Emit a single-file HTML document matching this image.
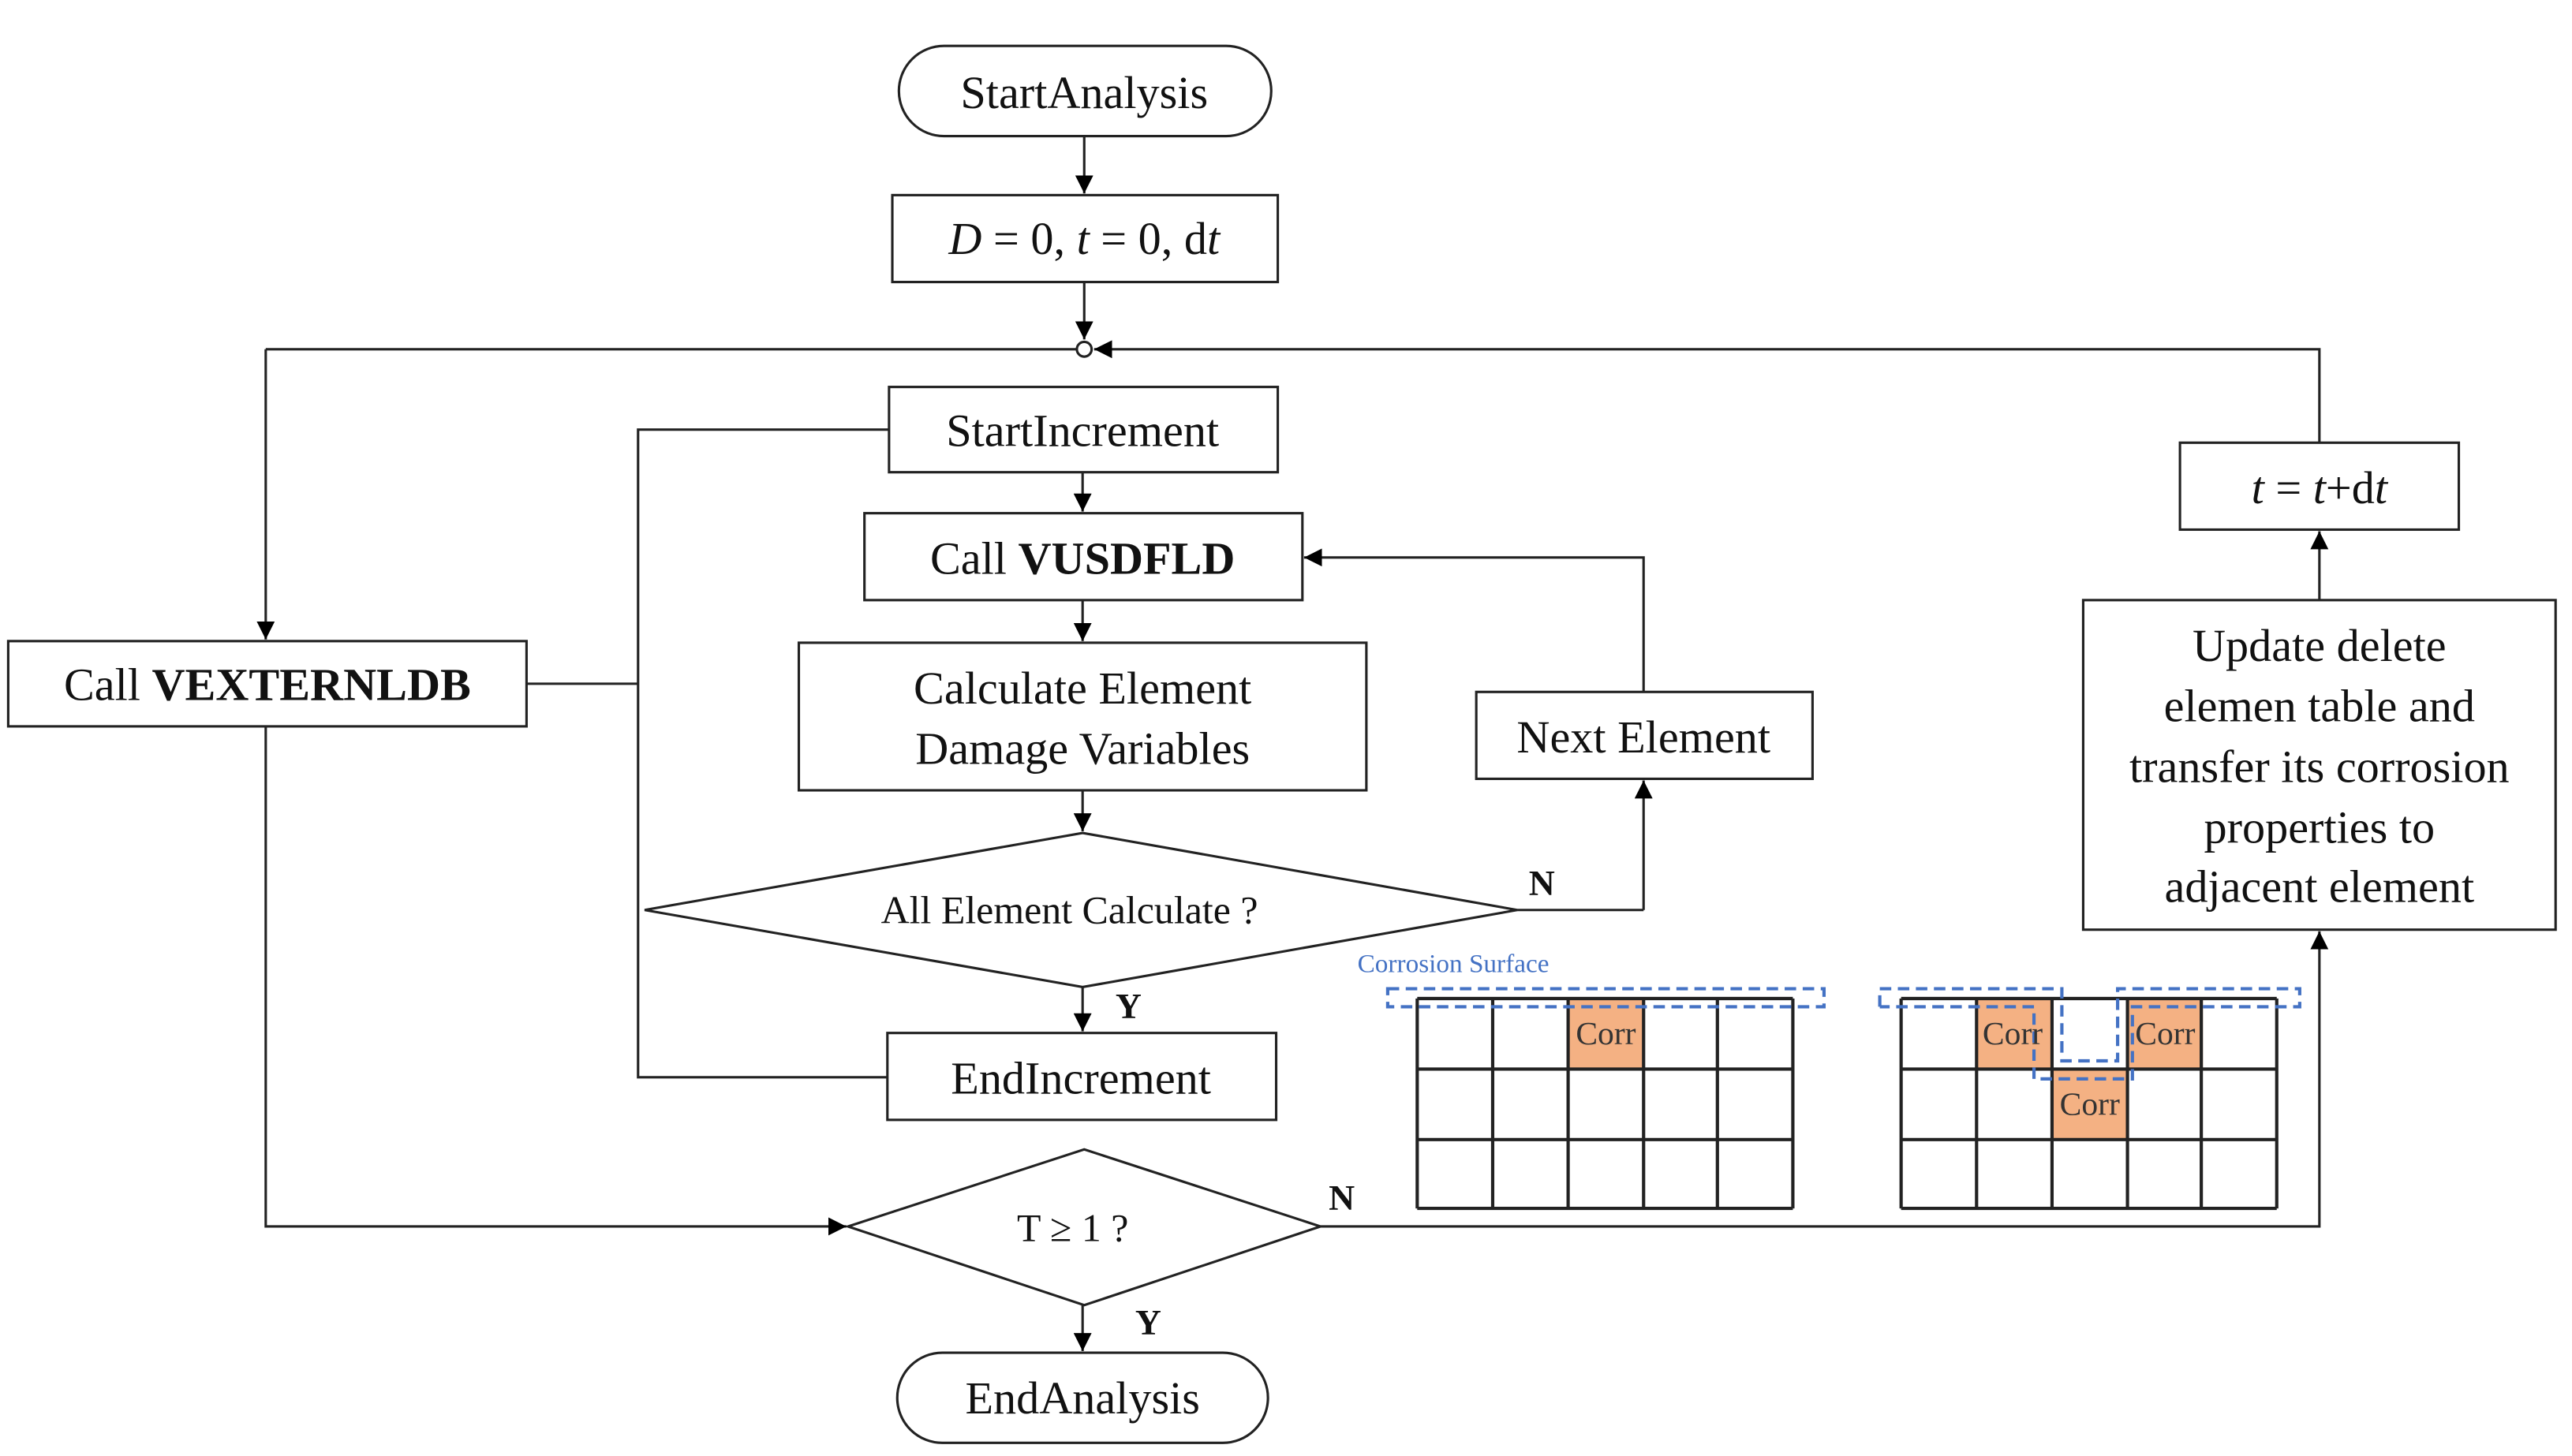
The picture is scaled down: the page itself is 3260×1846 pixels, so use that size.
<!DOCTYPE html>
<html><head><meta charset="utf-8"><style>html,body{margin:0;padding:0;background:#fff}svg{display:block}</style></head>
<body>
<svg width="3260" height="1846" viewBox="0 0 1568 888" preserveAspectRatio="none" xmlns="http://www.w3.org/2000/svg" font-family="Liberation Serif, serif" fill="none" stroke="#222" stroke-width="1.5">
<defs><marker id="b" viewBox="0 0 10 10" refX="10" refY="5" markerWidth="11" markerHeight="11" markerUnits="userSpaceOnUse" orient="auto"><path d="M0,0L10,5L0,10z" fill="#000" stroke="none"/></marker></defs>
<rect x="548" y="28" width="227" height="55" rx="27.5"/>
<rect x="544" y="119" width="235" height="53"/>
<rect x="542" y="236" width="237" height="52"/>
<rect x="527" y="313" width="267" height="53"/>
<rect x="487" y="392" width="346" height="90"/>
<polygon points="393,555 660,508 925,555 660,602"/>
<rect x="900" y="422" width="205" height="53"/>
<rect x="541" y="630" width="237" height="53"/>
<rect x="5" y="391" width="316" height="52"/>
<polygon points="517,748 661,701 805,748 661,796"/>
<rect x="547" y="825" width="226" height="55" rx="27.5"/>
<rect x="1329" y="270" width="170" height="53"/>
<rect x="1270" y="366" width="288" height="201"/>
<g marker-end="url(#b)">
<path d="M661,83V118"/><path d="M661,172V207"/><path d="M660,288V312"/><path d="M660,366V391"/><path d="M660,482V507"/><path d="M660,602V629"/>
<path d="M660,796V824"/><path d="M162,213V390"/><path d="M1002,555V476"/><path d="M1002,422V340H795"/>
<path d="M162,443V748H516"/><path d="M805,748H1414V568"/><path d="M1414,366V324"/><path d="M1414,270V213H667"/>
</g>
<path d="M656,213H162"/>
<circle cx="661" cy="213" r="4.5" fill="#fff"/>
<path d="M542,262H389V657H541M321,417H389"/>
<path d="M925,555H1002"/>
<g stroke-width="2">
<rect x="956" y="609" width="46" height="43" fill="#f4b183" stroke="none"/>
<rect x="1205" y="609" width="46" height="43" fill="#f4b183" stroke="none"/>
<rect x="1297" y="609" width="46" height="43" fill="#f4b183" stroke="none"/>
<rect x="1251" y="652" width="46" height="43" fill="#f4b183" stroke="none"/>
<path d="M864,609H1093M864,652H1093M864,695H1093M864,737H1093M864,609V737M910,609V737M956,609V737M1002,609V737M1047,609V737M1093,609V737"/>
<path d="M1159,609H1388M1159,652H1388M1159,695H1388M1159,737H1388M1159,609V737M1205,609V737M1251,609V737M1297,609V737M1342,609V737M1388,609V737"/>
</g>
<g stroke="#4472c4" stroke-width="2" stroke-dasharray="7,4">
<rect x="846" y="603" width="266" height="11"/>
<path d="M1146,614V603H1257V647H1291V603H1402V614H1300V658H1240V614H1146"/>
</g>
<g fill="#111" stroke="none" font-size="28" text-anchor="middle">
<text x="661" y="66">StartAnalysis</text>
<text x="661" y="155"><tspan font-style="italic">D</tspan> = 0, <tspan font-style="italic">t</tspan> = 0, d<tspan font-style="italic">t</tspan></text>
<text x="660" y="272">StartIncrement</text>
<text x="660" y="350">Call <tspan font-weight="bold">VUSDFLD</tspan></text>
<text x="660" y="429">Calculate Element</text>
<text x="660" y="466">Damage Variables</text>
<text x="652" y="563" font-size="24">All Element Calculate ?</text>
<text x="1002" y="459">Next Element</text>
<text x="659" y="667">EndIncrement</text>
<text x="163" y="427">Call <tspan font-weight="bold">VEXTERNLDB</tspan></text>
<text x="654" y="757" font-size="24">T ≥ 1 ?</text>
<text x="660" y="862">EndAnalysis</text>
<text x="1414" y="307"><tspan font-style="italic">t</tspan> = <tspan font-style="italic">t</tspan>+d<tspan font-style="italic">t</tspan></text>
<text x="1414" y="403">Update delete</text>
<text x="1414" y="440">elemen table and</text>
<text x="1414" y="477">transfer its corrosion</text>
<text x="1414" y="514">properties to</text>
<text x="1414" y="550">adjacent element</text>
<g font-weight="bold" font-size="22"><text x="940" y="546">N</text><text x="688" y="621">Y</text><text x="818" y="738">N</text><text x="700" y="814">Y</text></g>
<g font-size="20" fill="#333"><text x="979" y="637">Corr</text><text x="1227" y="637">Corr</text><text x="1320" y="637">Corr</text><text x="1274" y="680">Corr</text></g>
<text x="886" y="593" font-size="16" fill="#4472c4">Corrosion Surface</text>
</g>
</svg>
</body></html>
